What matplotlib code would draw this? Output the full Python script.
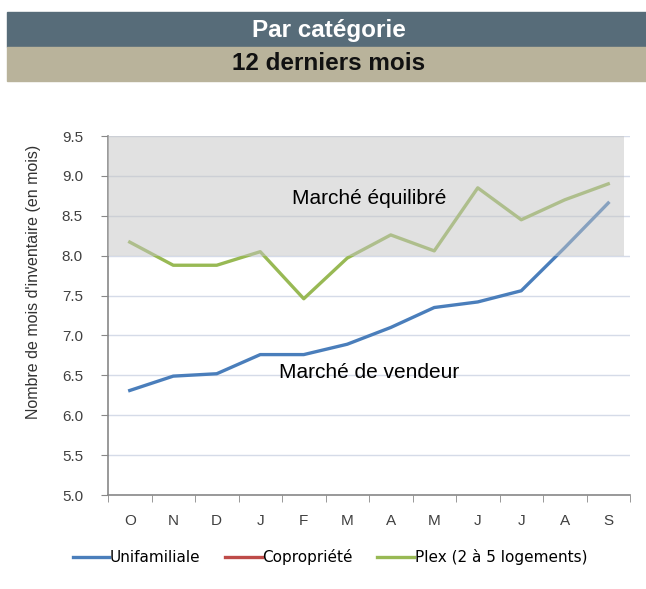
import matplotlib
matplotlib.use("Agg")
import matplotlib.pyplot as plt
from matplotlib.patches import Rectangle
from matplotlib.lines import Line2D

plt.rcParams['font.family'] = ['Liberation Sans', 'DejaVu Sans']

# data
months = ["O", "N", "D", "J", "F", "M", "A", "M", "J", "J", "A", "S"]
unifamiliale = [6.31, 6.49, 6.52, 6.76, 6.76, 6.89, 7.10, 7.35, 7.42, 7.56, 8.10, 8.66]
plex = [8.17, 7.88, 7.88, 8.05, 7.46, 7.97, 8.26, 8.06, 8.85, 8.45, 8.70, 8.90]
series_names = ["Unifamiliale", "Copropriété", "Plex (2 à 5 logements)"]
y_ticks = [5.0, 5.5, 6.0, 6.5, 7.0, 7.5, 8.0, 8.5, 9.0, 9.5]

blue = "#4a7ebb"
red = "#be4b48"
green = "#98b954"

fig = plt.figure(figsize=(6.46, 5.89), dpi=100)

# header bands
fig.patches.append(Rectangle((7 / 646, 1 - 47 / 589), 1, 35 / 589,
                             transform=fig.transFigure, color="#576c79", zorder=0))
fig.patches.append(Rectangle((7 / 646, 1 - 81 / 589), 1, 34 / 589,
                             transform=fig.transFigure, color="#b9b39b", zorder=0))
fig.text(329 / 646, 1 - 30 / 589, "Par catégorie", color="white", fontsize=17.5,
         fontweight="bold", ha="center", va="center")
fig.text(329 / 646, 1 - 64 / 589, "12 derniers mois", color="#111111", fontsize=17.5,
         fontweight="bold", ha="center", va="center")

ax = fig.add_axes([108 / 646, 1 - 495 / 589, 522 / 646, 359 / 589])
x = list(range(len(months)))

ax.plot(x, unifamiliale, color=blue, lw=2.4, zorder=2)
ax.plot(x, plex, color=green, lw=2.4, zorder=2)

# "Marché équilibré" band over the lines
ax.axhspan(8.0, 9.5, xmin=0, xmax=516 / 522, color="#c4c4c4", alpha=0.5, lw=0, zorder=3)

ax.set_xlim(-0.5, len(months) - 0.5)
ax.set_ylim(5.0, 9.5)
ax.set_yticks(y_ticks)
ax.set_yticklabels([f"{v:.1f}" for v in y_ticks])
ax.set_xticks(x)
ax.set_xticklabels(months)
ax.set_xticks([i - 0.5 for i in range(len(months) + 1)], minor=True)
ax.tick_params(axis="x", which="major", length=0, pad=14, labelsize=11, labelcolor="#404040")
ax.tick_params(axis="x", which="minor", length=5, color="#888888")
ax.tick_params(axis="y", length=5, color="#888888", labelsize=11, labelcolor="#404040", pad=13)

ax.grid(axis="y", color="#d5dbe8", lw=1, zorder=1)
ax.set_axisbelow(True)
for s in ["top", "right"]:
    ax.spines[s].set_visible(False)
for s in ["left", "bottom"]:
    ax.spines[s].set_color("#888888")
    ax.spines[s].set_linewidth(1.2)

ax.set_ylabel("Nombre de mois d'inventaire (en mois)", fontsize=11.5, color="#333333")
ax.yaxis.set_label_coords(-0.128, 0.593)

ax.text(5.5, 8.72, "Marché équilibré", fontsize=15, ha="center", va="center", zorder=5)
ax.text(5.5, 6.54, "Marché de vendeur", fontsize=15, ha="center", va="center", zorder=5)

handles = [Line2D([], [], color=c, lw=2.4) for c in (blue, red, green)]
fig.legend(handles, series_names, loc="center", bbox_to_anchor=(330 / 646, 1 - 557 / 589),
           ncol=3, frameon=False, handlelength=2.4, handletextpad=0.05,
           columnspacing=1.6, prop={"family": "DejaVu Sans", "size": 11})

fig.savefig("out.png", dpi=100)
